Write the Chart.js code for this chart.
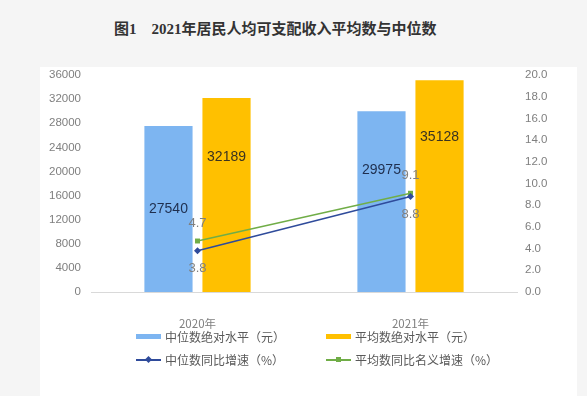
<!DOCTYPE html>
<html>
<head>
<meta charset="UTF-8">
<title>图1 2021年居民人均可支配收入平均数与中位数</title>
<script src="https://cdn.jsdelivr.net/npm/chart.js"></script>
<style>
  html, body { margin: 0; padding: 0; }
  body { width: 587px; height: 396px; background: #f5f5f5; position: relative; overflow: hidden;
         font-family: "Noto Sans CJK SC", "Liberation Sans", sans-serif; }
  #title { position: absolute; left: 114px; top: 17px; font-size: 15px; font-weight: bold; color: #333;
           font-family: "Liberation Serif", "Noto Sans CJK SC", serif; white-space: pre; }
  #panel { position: absolute; left: 40px; top: 67px; width: 537px; height: 329px; background: #fff; }
  #c { position: absolute; left: 0; top: 0; }
  .lg { position: absolute; font-size: 12px; color: #595959; height: 16px; line-height: 16px; white-space: nowrap; }
  .mk { display: inline-block; position: relative; width: 25px; height: 16px; vertical-align: top; margin-right: 4px; }
  .bar { position: absolute; left: 0; top: 5px; width: 25px; height: 5px; }
  .ln { position: absolute; left: 0; top: 7px; width: 25px; height: 2px; }
  .pt { position: absolute; left: 10px; top: 5px; width: 5px; height: 5px; }
</style>
</head>
<body>
<div id="title">图1　2021年居民人均可支配收入平均数与中位数</div>
<div id="panel"></div>
<canvas id="c" width="587" height="396"></canvas>
<div id="legend"></div>

<script>
const years = ['2020年', '2021年'];
const medianIncome = [27540, 29975];
const meanIncome = [32189, 35128];
const medianGrowth = [3.8, 8.8];
const meanGrowth = [4.7, 9.1];

const incomeTicks = [0, 36000, 4000];
const growthTicks = [0, 20, 2];

const colors = {
  median: '#7db5f1',
  mean: '#ffc000',
  medianLine: '#2f4b9b',
  meanLine: '#70ad47'
};

// labels on bars and points
const valueLabels = {
  id: 'valueLabels',
  afterDatasetsDraw(chart, args, opts) {
    const ctx = chart.ctx;
    ctx.save();
    ctx.textAlign = 'center';
    ctx.textBaseline = 'middle';
    chart.data.datasets.forEach((ds, i) => {
      const meta = chart.getDatasetMeta(i);
      const cfg = opts.sets[i];
      meta.data.forEach((el, j) => {
        ctx.font = cfg.font;
        ctx.fillStyle = cfg.color;
        const dy = Array.isArray(cfg.dy) ? cfg.dy[j] : cfg.dy;
        ctx.fillText(String(ds.data[j]), el.x + (cfg.dx || 0), el.y + dy);
      });
    });
    ctx.restore();
  }
};

new Chart(document.getElementById('c'), {
  type: 'bar',
  data: {
    labels: years,
    datasets: [
      {
        type: 'line', label: '中位数同比增速（%）', data: medianGrowth, yAxisID: 'y1', order: 0,
        borderColor: colors.medianLine, backgroundColor: colors.medianLine, borderWidth: 1.5,
        pointStyle: 'rectRot', pointRadius: 3.5, pointBorderWidth: 0
      },
      {
        type: 'line', label: '平均数同比名义增速（%）', data: meanGrowth, yAxisID: 'y1', order: 0,
        borderColor: colors.meanLine, backgroundColor: colors.meanLine, borderWidth: 1.5,
        pointStyle: 'rect', pointRadius: 3.5, pointBorderWidth: 0
      },
      {
        label: '中位数绝对水平（元）', data: medianIncome, yAxisID: 'y', order: 1,
        backgroundColor: colors.median, barPercentage: 0.83, categoryPercentage: 0.545
      },
      {
        label: '平均数绝对水平（元）', data: meanIncome, yAxisID: 'y', order: 1,
        backgroundColor: colors.mean, barPercentage: 0.83, categoryPercentage: 0.545
      }
    ]
  },
  options: {
    responsive: false,
    animation: false,
    layout: { padding: { left: 41, right: 20, top: 75, bottom: 0 } },
    plugins: {
      legend: { display: false },
      tooltip: { enabled: false },
      valueLabels: {
        sets: [
          { font: '13px "Liberation Sans", Arial', color: '#7f7f7f', dy: 18 },
          { font: '13px "Liberation Sans", Arial', color: '#7f7f7f', dy: -18 },
          { font: '14px "Liberation Sans", Arial', color: '#1f2f4f', dy: [83, 59] },
          { font: '14px "Liberation Sans", Arial', color: '#3a3220', dy: [59, 57] }
        ]
      }
    },
    scales: {
      x: {
        grid: { display: false, drawTicks: false },
        border: { display: true, color: '#d9d9d9', width: 1 },
        ticks: { color: '#7f7f7f', padding: 25, font: { size: 11.5, family: '"Noto Sans CJK SC", "Liberation Sans"' } },
        afterFit(s) { s.height = 104; }
      },
      y: {
        position: 'left',
        min: incomeTicks[0], max: incomeTicks[1],
        grid: { display: false, drawTicks: false },
        border: { display: false },
        ticks: {
          stepSize: incomeTicks[2], color: '#7f7f7f', padding: 10, font: { size: 11.5, family: '"Liberation Sans", Arial' },
          callback: v => String(v)
        },
        afterFit(s) { s.width = 50; }
      },
      y1: {
        position: 'right',
        min: growthTicks[0], max: growthTicks[1],
        grid: { display: false, drawTicks: false },
        border: { display: false },
        ticks: {
          stepSize: growthTicks[2], color: '#7f7f7f', padding: 8, font: { size: 11.5, family: '"Liberation Sans", Arial' },
          callback: v => v.toFixed(1)
        },
        afterFit(s) { s.width = 50; }
      }
    }
  },
  plugins: [valueLabels]
});

// legend, two columns like the original
const legendItems = [
  { text: '中位数绝对水平（元）', kind: 'bar', color: colors.median, x: 136, y: 329 },
  { text: '平均数绝对水平（元）', kind: 'bar', color: colors.mean, x: 326, y: 329 },
  { text: '中位数同比增速（%）', kind: 'line', color: colors.medianLine, diamond: true, x: 136, y: 352 },
  { text: '平均数同比名义增速（%）', kind: 'line', color: colors.meanLine, x: 326, y: 352 }
];
const lg = document.getElementById('legend');
legendItems.forEach(it => {
  const d = document.createElement('div');
  d.className = 'lg';
  d.style.left = it.x + 'px';
  d.style.top = it.y + 'px';
  let mk = '';
  if (it.kind === 'bar') {
    mk = `<span class="mk"><span class="bar" style="background:${it.color}"></span></span>`;
  } else {
    const rot = it.diamond ? 'transform:rotate(45deg);' : '';
    mk = `<span class="mk"><span class="ln" style="background:${it.color}"></span>` +
         `<span class="pt" style="background:${it.color};${rot}"></span></span>`;
  }
  d.innerHTML = mk + it.text;
  lg.appendChild(d);
});
</script>
</body>
</html>
